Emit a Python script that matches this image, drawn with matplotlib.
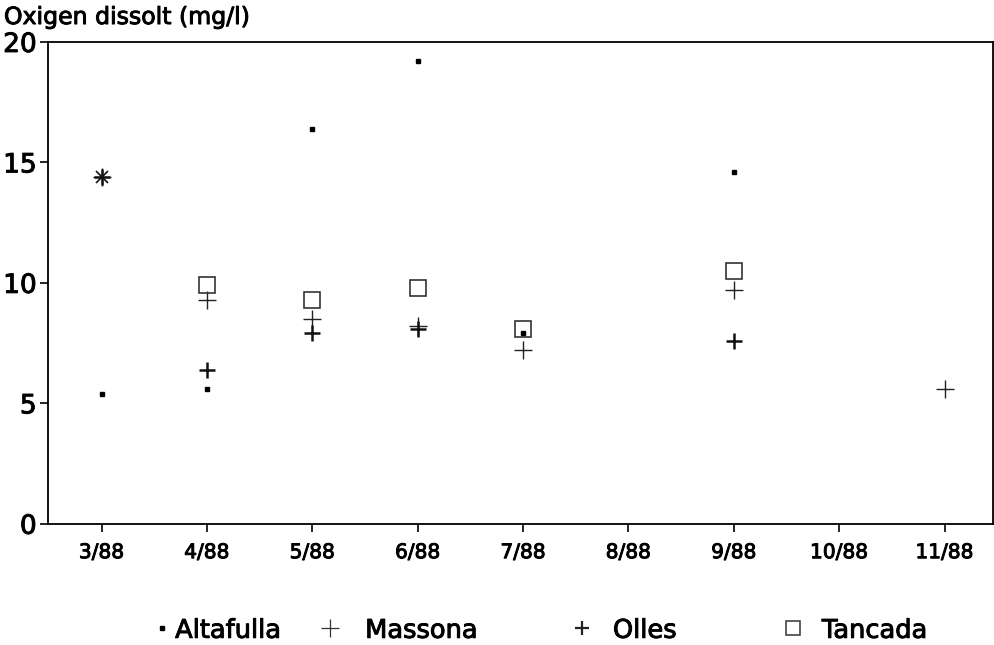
import matplotlib.pyplot as plt
import matplotlib.patheffects as pe
from matplotlib.lines import Line2D

plt.rcParams['font.family'] = ['DejaVu Sans']

months = ["3/88", "4/88", "5/88", "6/88", "7/88", "8/88", "9/88", "10/88", "11/88"]

# dissolved oxygen readings (mg/l) by sampling month index
altafulla_x = [0, 1, 2, 3, 4, 6]
altafulla_y = [5.4, 5.6, 16.4, 19.2, 7.9, 14.6]

massona_x = [0, 1, 2, 3, 4, 6, 8]
massona_y = [14.4, 9.3, 8.5, 8.2, 7.2, 9.7, 5.6]

olles_x = [0, 1, 2, 3, 6]
olles_y = [14.4, 6.4, 7.9, 8.1, 7.6]

tancada_x = [1, 2, 3, 4, 6]
tancada_y = [9.9, 9.3, 9.8, 8.1, 10.5]

series_names = ["Altafulla", "Massona", "Olles", "Tancada"]

# slightly heavier strokes on all text
bold = [pe.withStroke(linewidth=0.7, foreground='black')]

fig = plt.figure(figsize=(9.95, 6.45), dpi=100)
ax = fig.add_axes([0.048, 0.188, 0.950, 0.747])

styles = [
    dict(marker='s', ms=2.8, color='black'),
    dict(marker='+', ms=13, mew=1.0, color='#222222'),
    dict(marker='+', ms=11, mew=1.8, color='#111111'),
    dict(marker='s', ms=11, mew=1.2, mfc='none', mec='#333333', color='#333333'),
]

ax.plot(altafulla_x, altafulla_y, ls='none', **styles[0])
ax.plot(massona_x, massona_y, ls='none', **styles[1])
ax.plot(olles_x, olles_y, ls='none', **styles[2])
ax.plot(olles_x[:1], olles_y[:1], ls='none', marker='x', ms=8, mew=1.2, color='#111111')
ax.plot(tancada_x, tancada_y, ls='none', **styles[3])

ax.set_xlim(-0.51, 8.46)
ax.set_ylim(0, 20)
ax.set_xticks(range(len(months)))
ax.set_xticklabels(months)
ax.set_yticks([0, 5, 10, 15, 20])
ax.tick_params(direction='out', length=6, width=1.2, labelsize=14.5, pad=8, colors='black')
ax.tick_params(axis='y', labelsize=19, pad=2)
for s in ax.spines.values():
    s.set_linewidth(1.3)
for lbl in ax.get_xticklabels() + ax.get_yticklabels():
    lbl.set_path_effects(bold)

fig.text(0.004, 0.955, "Oxigen dissolt (mg/l)", fontsize=17, ha='left', va='bottom',
         path_effects=bold)

# legend row along the bottom
handle_x = [0.163, 0.332, 0.585, 0.797]
text_x = [0.176, 0.367, 0.616, 0.826]
leg_y = 0.022
legend_styles = [
    dict(marker='s', ms=2.8, color='black'),
    dict(marker='+', ms=13, mew=0.9, color='#333333'),
    dict(marker='+', ms=10, mew=1.6, color='#222222'),
    dict(marker='s', ms=10, mew=1.1, mfc='none', mec='#333333'),
]
for hx, tx, name, st in zip(handle_x, text_x, series_names, legend_styles):
    fig.add_artist(Line2D([hx], [leg_y + 0.004], ls='none', transform=fig.transFigure, **st))
    fig.text(tx, leg_y, name, fontsize=18.5, ha='left', va='center', path_effects=bold)

fig.savefig("out.png", dpi=100)
